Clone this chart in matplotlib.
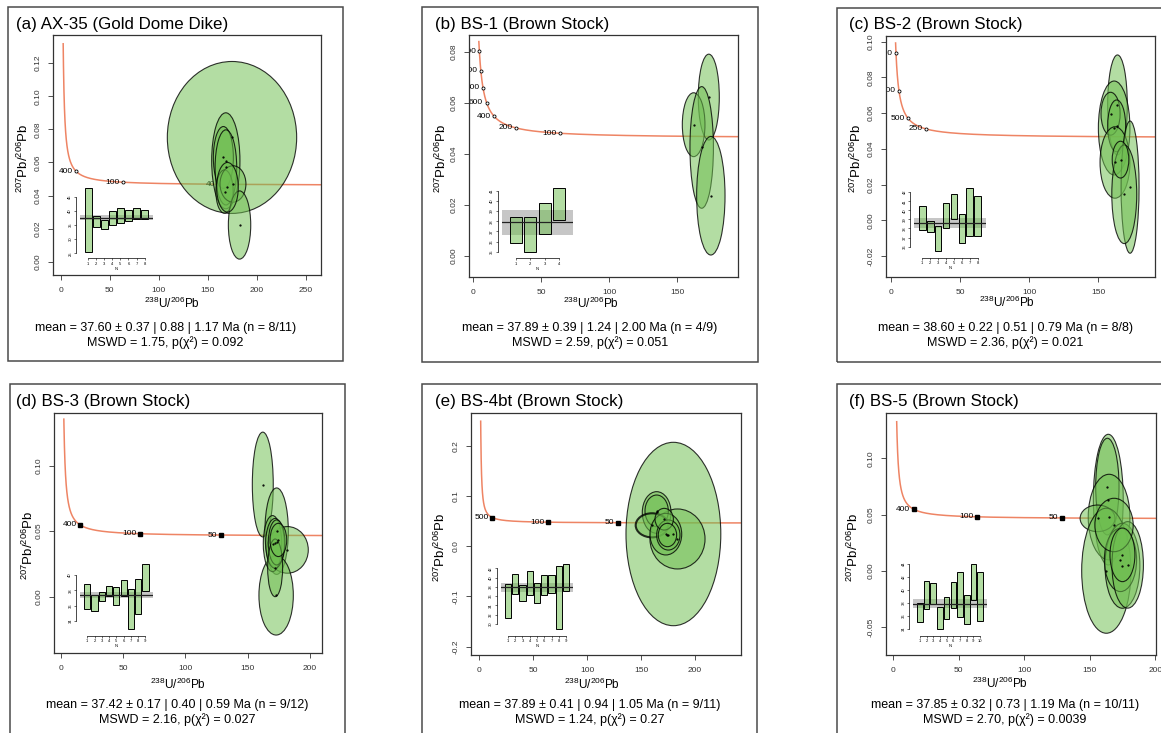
import numpy as np
import matplotlib.pyplot as plt
from matplotlib.patches import Ellipse, Rectangle
from matplotlib.colors import to_rgba
from matplotlib.ticker import FormatStrFormatter

plt.rcParams['font.family'] = ['Liberation Sans', 'DejaVu Sans']
plt.rcParams['mathtext.default'] = 'regular'

W, H = 1161, 733

# decay constants (1/Ma) and 238U/235U for the Tera-Wasserburg concordia
LAM238 = 1.55125e-4
LAM235 = 9.8485e-4
U85 = 137.818

# ---------------- data ----------------
titles = ['(a) AX-35 (Gold Dome Dike)', '(b) BS-1 (Brown Stock)', '(c) BS-2 (Brown Stock)',
          '(d) BS-3 (Brown Stock)', '(e) BS-4bt (Brown Stock)', '(f) BS-5 (Brown Stock)']
stats1 = ['mean = 37.60 ± 0.37 | 0.88 | 1.17 Ma (n = 8/11)',
          'mean = 37.89 ± 0.39 | 1.24 | 2.00 Ma (n = 4/9)',
          'mean = 38.60 ± 0.22 | 0.51 | 0.79 Ma (n = 8/8)',
          'mean = 37.42 ± 0.17 | 0.40 | 0.59 Ma (n = 9/12)',
          'mean = 37.89 ± 0.41 | 0.94 | 1.05 Ma (n = 9/11)',
          'mean = 37.85 ± 0.32 | 0.73 | 1.19 Ma (n = 10/11)']
stats2 = ['MSWD = 1.75, p(χ²) = 0.092', 'MSWD = 2.59, p(χ²) = 0.051',
          'MSWD = 2.36, p(χ²) = 0.021', 'MSWD = 2.16, p(χ²) = 0.027',
          'MSWD = 1.24, p(χ²) = 0.27', 'MSWD = 2.70, p(χ²) = 0.0039']
means = [37.60, 37.89, 38.60, 37.42, 37.89, 37.85]
bands = [0.88, 1.24, 0.51, 0.40, 0.94, 0.73]

# concordia age markers (Ma)
ages = [[400, 100, 40], [1200, 1000, 800, 600, 400, 200, 100], [1500, 1000, 500, 250],
        [400, 100, 50], [500, 100, 50], [400, 100, 50]]

# error ellipses: centre x, centre y, half-width, half-height
a_x = [174.6, 168.3, 165.8, 168.4, 167.0, 175.6, 182.3, 170.0]
a_y = [0.0751, 0.0610, 0.0630, 0.0570, 0.0424, 0.0470, 0.0222, 0.0450]
a_sx = [65.9, 14.4, 10.2, 11.0, 8.8, 13.2, 11.4, 11.0]
a_sy = [0.0459, 0.0290, 0.0187, 0.0227, 0.0131, 0.0110, 0.0206, 0.0150]

b_x = [173.0, 161.9, 167.8, 174.5]
b_y = [0.0622, 0.0514, 0.0425, 0.0236]
b_sx = [7.7, 8.3, 8.6, 10.4]
b_sy = [0.0168, 0.0125, 0.0238, 0.0232]

c_x = [163.8, 161.4, 158.8, 163.2, 162.0, 172.9, 168.7, 166.0]
c_y = [0.0646, 0.0517, 0.0597, 0.0529, 0.0324, 0.0186, 0.0146, 0.0340]
c_sx = [7.1, 11.4, 6.9, 6.5, 10.8, 6.5, 9.0, 6.0]
c_sy = [0.0280, 0.0263, 0.0120, 0.0145, 0.0200, 0.0370, 0.0276, 0.0103]

d_x = [162.1, 173.2, 181.9, 172.8, 169.9, 171.9, 173.2, 172.0, 174.6]
d_y = [0.0856, 0.0500, 0.0357, 0.0010, 0.0405, 0.0407, 0.0414, 0.0220, 0.0433]
d_sx = [8.4, 9.4, 16.7, 13.8, 7.4, 7.5, 6.7, 6.0, 6.7]
d_sy = [0.0400, 0.0330, 0.0178, 0.0303, 0.0214, 0.0190, 0.0172, 0.0220, 0.0127]

e_x = [180.0, 183.8, 164.5, 164.5, 160.2, 173.0, 175.3, 171.5, 174.5]
e_y = [0.0245, 0.0146, 0.0674, 0.0706, 0.0418, 0.0242, 0.0225, 0.0540, 0.0225]
e_sx = [43.9, 25.5, 13.3, 10.8, 15.1, 14.7, 10.8, 8.5, 8.5]
e_sy = [0.1828, 0.0598, 0.0415, 0.0316, 0.0240, 0.0415, 0.0300, 0.0216, 0.0233]

f_x = [164.0, 163.3, 164.6, 155.8, 162.5, 174.8, 173.3, 178.8, 168.4, 174.8]
f_y = [0.0633, 0.0749, 0.0478, 0.0467, 0.0002, 0.0046, 0.0098, 0.0054, 0.0408, 0.0143]
f_sx = [11.4, 8.9, 15.9, 13.3, 18.8, 13.3, 12.3, 12.0, 14.6, 9.5]
f_sy = [0.0580, 0.0429, 0.0380, 0.0118, 0.0555, 0.0377, 0.0281, 0.0384, 0.0237, 0.0238]

# weighted-mean inset bars (Ma): lower and upper ends
a_lo = [25.6, 34.2, 33.5, 35.2, 35.8, 36.5, 37.0, 37.0]
a_hi = [48.3, 38.2, 36.8, 39.9, 41.1, 40.3, 41.1, 40.5]
b_lo = [35.82, 35.0, 36.7, 38.08]
b_hi = [38.44, 38.44, 39.85, 41.33]
c_lo = [37.81, 37.56, 35.52, 38.04, 39.0, 36.41, 37.19, 37.15]
c_hi = [40.48, 38.78, 38.30, 40.78, 41.78, 39.56, 42.52, 41.63]
d_lo = [35.59, 35.29, 36.64, 37.21, 36.03, 37.21, 32.97, 34.94, 37.91]
d_hi = [38.79, 37.43, 37.78, 38.57, 38.48, 39.40, 38.22, 39.53, 41.41]
e_lo = [31.21, 36.41, 34.97, 36.27, 34.46, 36.27, 36.63, 28.90, 37.13]
e_hi = [38.65, 40.82, 38.36, 41.32, 38.79, 40.60, 40.45, 42.48, 42.91]
f_lo = [34.97, 36.97, 37.74, 33.95, 35.49, 37.13, 35.74, 34.72, 38.41, 35.13]
f_hi = [37.90, 41.38, 41.08, 37.38, 38.82, 41.13, 42.67, 39.18, 43.95, 42.67]

ins_yticks = [[25, 30, 35, 40, 45], [35, 36, 37, 38, 39, 40, 41], [36, 37, 38, 39, 40, 41, 42],
              [34, 36, 38, 40], [30, 32, 34, 36, 38, 40, 42], [34, 36, 38, 40, 42, 44]]

ells = [(a_x, a_y, a_sx, a_sy), (b_x, b_y, b_sx, b_sy), (c_x, c_y, c_sx, c_sy),
        (d_x, d_y, d_sx, d_sy), (e_x, e_y, e_sx, e_sy), (f_x, f_y, f_sx, f_sy)]
bars = [(a_lo, a_hi), (b_lo, b_hi), (c_lo, c_hi), (d_lo, d_hi), (e_lo, e_hi), (f_lo, f_hi)]

# ---------------- layout (pixels) ----------------
frames = [(8, 7, 343, 361), (422, 7, 758, 362), (837, 8, 1200, 362),
          (10, 384, 345, 760), (422, 384, 757, 760), (837, 384, 1200, 760)]
main_box = [(53, 35, 321, 275), (469, 35, 738, 277), (886, 36, 1155, 277),
            (54, 413, 322, 653), (471, 413, 741, 655), (886, 413, 1156, 655)]
ins_box = [(80, 185, 152.7, 254.2), (501.7, 185, 573.3, 254.2), (914.3, 185, 985.7, 253.5),
           (80, 561.5, 152.7, 631.5), (500.7, 561.5, 573.3, 631.5), (913.3, 561.5, 986.7, 631.5)]
xlims = [(-7.8, 265.3), (-2.7, 194.4), (-3.4, 190.9), (-5.4, 209.6), (-7.4, 242.6), (-5.6, 200.4)]
ylims = [(-0.008, 0.137), (-0.0082, 0.0865), (-0.0317, 0.1032), (-0.043, 0.1402),
         (-0.2167, 0.2657), (-0.0746, 0.1402)]
xticks = [[0, 50, 100, 150, 200, 250], [0, 50, 100, 150], [0, 50, 100, 150],
          [0, 50, 100, 150, 200], [0, 50, 100, 150, 200], [0, 50, 100, 150, 200]]
yticks = [np.arange(0, 0.121, 0.02), np.arange(0, 0.081, 0.02), np.arange(-0.02, 0.101, 0.02),
          [0, 0.05, 0.10], [-0.2, -0.1, 0, 0.1, 0.2], [-0.05, 0, 0.05, 0.10]]
yfmt = ['%.2f', '%.2f', '%.2f', '%.2f', '%.1f', '%.2f']
tmax = [2120, 1290, 1610, 2170, 3180, 2130]
title_xy = [(16, 24), (435, 24), (849, 24), (16, 401), (435, 401), (849, 401)]
stats_xy = [(165.5, 328), (589.7, 328), (1005, 328), (177.5, 705), (589.7, 705), (1005, 705)]
xlab_xy = [(172, 303), (590.7, 303), (1007, 302), (178.3, 684), (591.5, 684), (1000, 683)]
ylab_xy = [(23, 158), (441.7, 158), (856.7, 158), (28.3, 545), (440, 547), (853.3, 547)]

GREEN = '#6ebe50'
CONC = '#ee8464'
FRAME = '#4a4a4a'


def fbox(l, t, r, b):
    return [l / W, 1 - b / H, (r - l) / W, (b - t) / H]


def tw(t):
    e8 = np.exp(LAM238 * np.asarray(t, float)) - 1
    e5 = np.exp(LAM235 * np.asarray(t, float)) - 1
    return 1 / e8, e5 / e8 / U85


fig = plt.figure(figsize=(W / 100, H / 100), dpi=100)

for i in range(6):
    l, t, r, b = frames[i]
    fig.add_artist(Rectangle((l / W, 1 - b / H), (r - l) / W, (b - t) / H,
                             transform=fig.transFigure, fill=False, ec=FRAME, lw=1.1))
    fig.text(title_xy[i][0] / W, 1 - title_xy[i][1] / H, titles[i], fontsize=12.2,
             ha='left', va='center')
    fig.text(stats_xy[i][0] / W, 1 - stats_xy[i][1] / H, stats1[i], fontsize=9,
             ha='center', va='center')
    fig.text(stats_xy[i][0] / W, 1 - (stats_xy[i][1] + 15) / H, stats2[i], fontsize=9,
             ha='center', va='center')
    fig.text(xlab_xy[i][0] / W, 1 - xlab_xy[i][1] / H, r'$^{238}$U/$^{206}$Pb', fontsize=8.5,
             ha='center', va='center')
    fig.text(ylab_xy[i][0] / W, 1 - ylab_xy[i][1] / H, r'$^{207}$Pb/$^{206}$Pb', fontsize=9.5,
             ha='center', va='center', rotation=90)

    # main Tera-Wasserburg panel
    ax = fig.add_axes(fbox(*main_box[i]))
    ax.set_xlim(*xlims[i])
    ax.set_ylim(*ylims[i])
    for s in ax.spines.values():
        s.set_color('#333333')
        s.set_linewidth(0.9)
    ax.set_xticks(xticks[i])
    ax.set_yticks(yticks[i])
    ax.yaxis.set_major_formatter(FormatStrFormatter(yfmt[i]))
    ax.tick_params(direction='out', length=3.5, width=0.6, labelsize=6,
                   colors='#333333', pad=5)
    ax.tick_params(axis='y', labelrotation=90)
    for lab in ax.get_yticklabels():
        lab.set_va('center')

    tt = np.geomspace(8, tmax[i], 800)
    cx, cy = tw(tt)
    ax.plot(cx, cy, color=CONC, lw=1.1, zorder=1)
    for age in ages[i]:
        mx, my = tw(age)
        if i < 3:
            ax.plot(mx, my, 'o', ms=2.2, mfc='white', mec='k', mew=0.6, zorder=2)
        else:
            ax.plot(mx, my, 's', ms=3, color='k', zorder=2)
        ax.annotate(str(age), (mx, my), xytext=(-2.5, 0), textcoords='offset points',
                    ha='right', va='center', fontsize=6, zorder=2, clip_on=True)

    ex, ey, esx, esy = ells[i]
    for k in range(len(ex)):
        lw = 1.5 if (i == 4 and k == 4) else 0.8
        ax.add_patch(Ellipse((ex[k], ey[k]), 2 * esx[k], 2 * esy[k],
                             fc=to_rgba(GREEN, 0.52), ec=(0, 0, 0, 0.8), lw=lw, zorder=3))
    ax.plot(ex, ey, '.', color='k', ms=1.2, zorder=4)

    # weighted-mean inset
    lo, hi = np.array(bars[i][0]), np.array(bars[i][1])
    n = len(lo)
    pad = 0.04 * (hi.max() - lo.min())
    ins = fig.add_axes(fbox(*ins_box[i]))
    ins.patch.set_alpha(0)
    ins.set_xlim(0, n + 1)
    ins.set_ylim(lo.min() - pad, hi.max() + pad)
    ins.axhspan(means[i] - bands[i], means[i] + bands[i], color='#a0a0a0', alpha=0.6,
                lw=0, zorder=1)
    ins.bar(np.arange(1, n + 1), hi - lo, bottom=lo, width=0.85, color=to_rgba(GREEN, 0.52),
            edgecolor='k', lw=0.7, zorder=2)
    ins.axhline(means[i], color='#222222', lw=0.9, zorder=3)
    for s in ['top', 'right']:
        ins.spines[s].set_visible(False)
    for s in ['left', 'bottom']:
        ins.spines[s].set_position(('outward', 3))
        ins.spines[s].set_linewidth(0.5)
    ins.set_xticks(range(1, n + 1))
    ins.set_yticks(ins_yticks[i])
    ins.spines['bottom'].set_bounds(1, n)
    ins.spines['left'].set_bounds(ins_yticks[i][0], ins_yticks[i][-1])
    ins.tick_params(length=1.5, width=0.4, labelsize=3, pad=1)
    ins.tick_params(axis='y', labelrotation=90)
    for lab in ins.get_yticklabels():
        lab.set_va('center')
    ins.set_xlabel('N', fontsize=3, labelpad=0.5)

fig.savefig('out.png', dpi=100)
